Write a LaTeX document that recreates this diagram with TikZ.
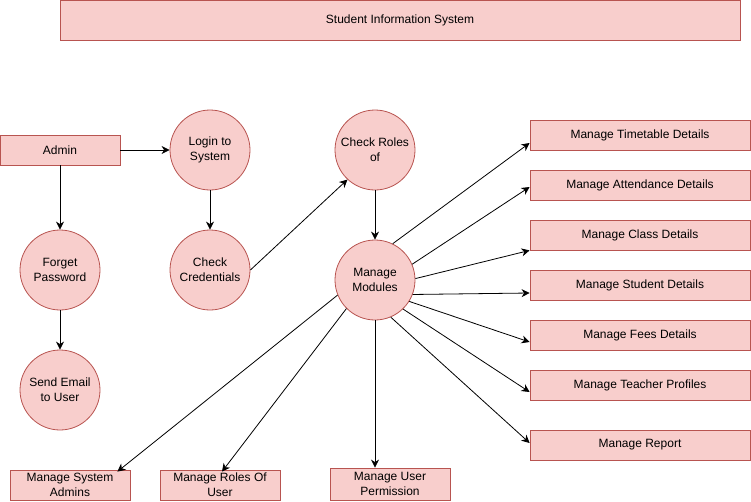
\documentclass[tikz,border=0pt]{standalone}
\usepackage{fontspec}
\setmainfont{Liberation Sans}
\usetikzlibrary{arrows.meta,calc}
\definecolor{boxfill}{HTML}{F8CECC}
\definecolor{boxline}{HTML}{B85450}
\tikzset{
    block/.style = {draw=boxline, fill=boxfill, rectangle, line width=0.8pt,
        font=\fontsize{12}{15}\selectfont, align=center, inner sep=0pt},
    proc/.style = {draw=boxline, fill=boxfill, circle, line width=0.8pt,
        minimum size=80pt, inner sep=0pt,
        font=\fontsize{12}{15}\selectfont, align=center},
    arrow/.style = {draw, line width=0.8pt, -{Stealth[length=8pt,width=8pt,inset=2.5pt]}}
}

\begin{document}
\begin{tikzpicture}[x=1pt,y=-1pt]
                \useasboundingbox (0,0) rectangle (751,501);
                % header
                \node[block,minimum width=680pt,minimum height=40pt] (sis) at (400,20) {Student Information System};
                % left column
                \node[block,minimum width=120pt,minimum height=30pt] (admin) at (60,150) {Admin};
                \node[proc] (forget) at (60,270) {Forget\\Password};
                \node[proc] (email) at (60,390) {Send Email\\to User};
                \node[proc] (login) at (210,150) {Login to\\System};
                \node[proc] (cred) at (210,270) {Check\\Credentials};
                \node[proc] (roles) at (375,150) {Check Roles\\of};
                \node[proc] (mm) at (375,280) {Manage\\Modules};
                % right column
                \node[block,minimum width=220pt,minimum height=30pt] (tt) at (640,135) {Manage Timetable Details};
                \node[block,minimum width=220pt,minimum height=30pt] (att) at (640,185) {Manage Attendance Details};
                \node[block,minimum width=220pt,minimum height=30pt] (cls) at (640,235) {Manage Class Details};
                \node[block,minimum width=220pt,minimum height=30pt] (stu) at (640,285) {Manage Student Details};
                \node[block,minimum width=220pt,minimum height=30pt] (fee) at (640,335) {Manage Fees Details};
                \node[block,minimum width=220pt,minimum height=30pt] (tch) at (640,385) {Manage Teacher Profiles};
                \node[block,minimum width=220pt,minimum height=30pt] (rep) at (640,445) {Manage Report};
                % bottom row
                \node[block,minimum width=120pt,minimum height=30pt] (sysad) at (70,485) {Manage System\\Admins};
                \node[block,minimum width=120pt,minimum height=30pt] (rou) at (220,485) {Manage Roles Of\\User};
                \node[block,minimum width=120pt,minimum height=32pt] (perm) at (390,484) {Manage User\\Permission};
                % connectors
                \draw[arrow] (admin.east) -- (login.west);
                \draw[arrow] (admin.south) -- (forget.north);
                \draw[arrow] (forget.south) -- (email.north);
                \draw[arrow] (login.south) -- (cred.north);
                \draw[arrow] (cred.east) -- (roles.227);
                \draw[arrow] (roles.south) -- (mm.north);
                \draw[arrow] (mm.64) -- ([yshift=-8pt]tt.west);
                \draw[arrow] (mm.23) -- ([yshift=-2pt]att.west);
                \draw[arrow] (mm.2) -- (cls.south west);
                \draw[arrow] (mm.-21) -- ([yshift=-8pt]stu.west);
                \draw[arrow] (mm.-32) -- ([yshift=-7pt]fee.west);
                \draw[arrow] (mm.-46) -- ([yshift=-7pt]tch.west);
                \draw[arrow] (mm.-67) -- ([yshift=2pt]rep.west);
                \draw[arrow] (mm.202) -- ([xshift=-13pt,yshift=-2pt]sysad.north east);
                \draw[arrow] (mm.225) -- ([xshift=2pt,yshift=-2pt]rou.north);
                \draw[arrow] (mm.south) -- (mm.south |- perm.north);
            \end{tikzpicture}
\end{document}
